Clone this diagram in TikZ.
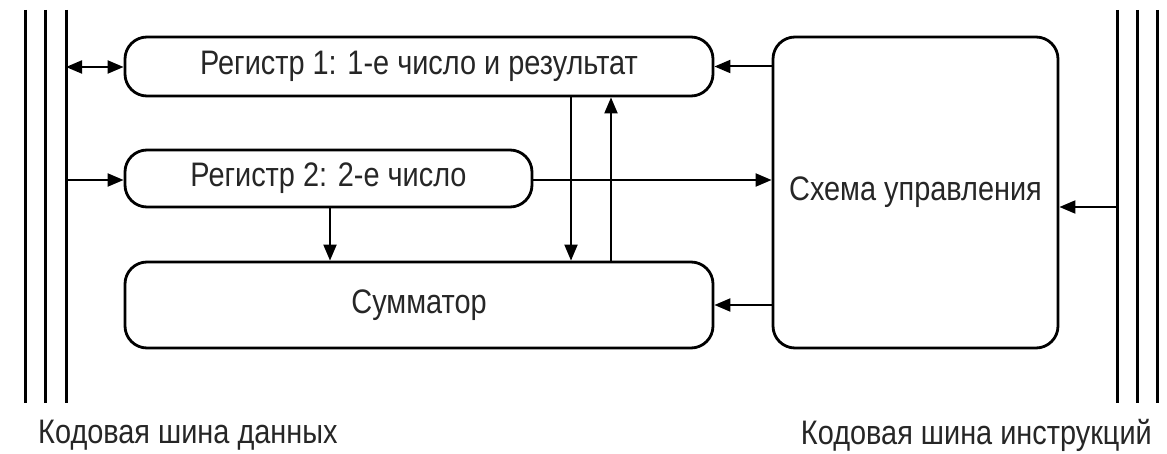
\documentclass[tikz,border=0pt]{standalone}
\usepackage{fontspec}
\setmainfont{Liberation Sans}[FakeStretch=0.85]
\usetikzlibrary{arrows.meta}
\begin{document}
\begin{tikzpicture}[x=1pt,y=-1pt,
  box/.style={draw=black,line width=2.8pt,rounded corners=22pt,inner sep=0pt,font=\fontsize{34}{37}\selectfont,text=black!85},
  conn/.style={line width=2pt,-{Triangle[length=16pt,width=13pt]}},
  bus/.style={line width=3pt},
  lbl/.style={font=\fontsize{34}{37}\selectfont,text=black!85,inner sep=0pt}]
\useasboundingbox (0,0) rectangle (1167,454);
% boxes
\node[box,minimum width=588pt,minimum height=59pt] (r1) at (419,66.5) {Регистр 1: 1-е число и результат};
\node[box,minimum width=407pt,minimum height=57pt] (r2) at (328.5,178.5) {Регистр 2: 2-е число};
\node[box,minimum width=588pt,minimum height=86pt] (sum) at (419,305) {Сумматор};
\node[box,minimum width=285pt,minimum height=311pt] (ctl) at (915.5,192.5) {Схема управления};
% buses
\coordinate (lb1t) at (25,10); \coordinate (lb1b) at (25,403);
\coordinate (lb2t) at (45,10); \coordinate (lb2b) at (45,403);
\coordinate (lb3t) at (66,10); \coordinate (lb3b) at (66,403);
\coordinate (rb1t) at (1117,10); \coordinate (rb1b) at (1117,403);
\coordinate (rb2t) at (1137,10); \coordinate (rb2b) at (1137,403);
\coordinate (rb3t) at (1157,10); \coordinate (rb3b) at (1157,403);
\draw[bus] (lb1t) -- (lb1b); \draw[bus] (lb2t) -- (lb2b); \draw[bus] (lb3t) -- (lb3b);
\draw[bus] (rb1t) -- (rb1b); \draw[bus] (rb2t) -- (rb2b); \draw[bus] (rb3t) -- (rb3b);
% connectors
\coordinate (b1) at (66,67);
\coordinate (b2) at (66,180);
\coordinate (b3) at (1117,207);
\draw[conn,{Triangle[length=16pt,width=13pt]}-{Triangle[length=16pt,width=13pt]}] (b1) -- (r1.west |- b1);
\draw[conn] (b2) -- (r2.west |- b2);
\draw[conn] (ctl.west |- r1.west) -- (r1.east);
\draw[conn] (r2.east |- 0,180) -- (ctl.west |- 0,180);
\draw[conn] (r2.south -| 330,0) -- (sum.north -| 330,0);
\draw[conn] (r1.south -| 571,0) -- (sum.north -| 571,0);
\draw[conn] (sum.north -| 611,0) -- (r1.south -| 611,0);
\draw[conn] (ctl.west |- 0,305) -- (sum.east |- 0,305);
\draw[conn] (b3) -- (ctl.east |- b3);
% labels
\node[lbl,anchor=west] (ld) at (38,435) {Кодовая шина данных};
\node[lbl,anchor=east] (li) at (1152,435) {Кодовая шина инструкций};
\end{tikzpicture}
\end{document}
